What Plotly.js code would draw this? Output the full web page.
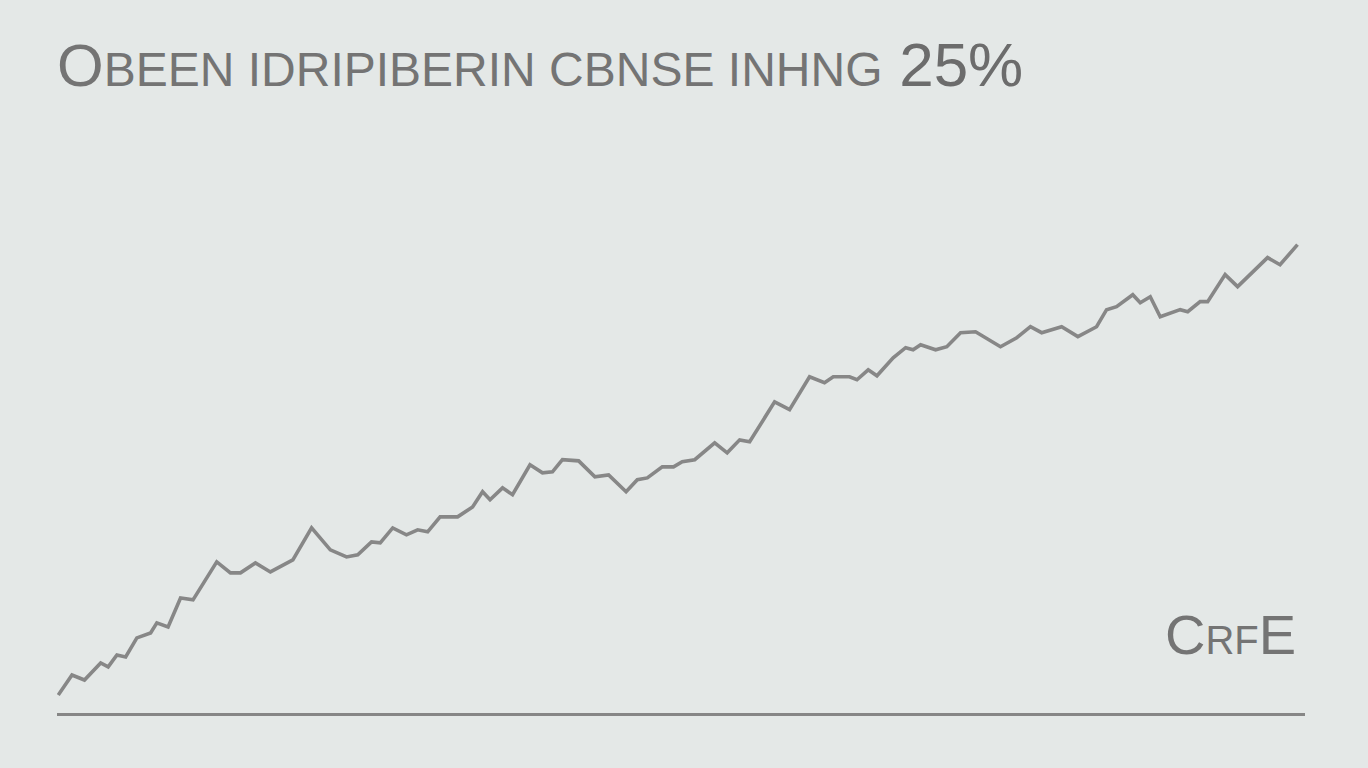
<!DOCTYPE html>
<html>
<head>
<meta charset="utf-8">
<script src="https://cdn.plot.ly/plotly-3.0.1.min.js"></script>
<style>
  html, body { margin: 0; padding: 0; background: #e4e8e7; }
  #chart { width: 1368px; height: 768px; }
</style>
</head>
<body>
<div id="chart"></div>
<script>
// Series (x: time units 0-100, y: percent)
const periods = [0.1, 1.2, 2.2, 3.5, 4.1, 4.8, 5.5, 6.4, 7.5, 8.0, 8.9, 9.9, 10.9, 12.8, 13.9, 14.7, 15.9, 17.1, 18.9, 20.4,
  21.9, 23.2, 24.1, 25.2, 25.9, 26.9, 28.0, 28.9, 29.7, 30.7, 32.1, 33.3, 34.1, 34.7, 35.7, 36.5, 37.9, 38.9, 39.7, 40.5,
  41.8, 43.1, 44.2, 45.6, 46.5, 47.3, 48.5, 49.4, 50.1, 51.1, 52.7, 53.7, 54.7, 55.5, 57.5, 58.7, 60.3, 61.5, 62.2, 63.5,
  64.1, 65.0, 65.7, 67.0, 68.0, 68.6, 69.2, 70.4, 71.3, 72.4, 73.6, 75.6, 76.9, 78.0, 78.9, 80.5, 81.8, 82.8, 83.3, 84.1,
  84.9, 86.2, 86.8, 87.6, 88.4, 90.0, 90.6, 91.6, 92.2, 93.6, 94.6, 97.0, 98.0, 99.4];
const values = [0.96, 2.03, 1.76, 2.67, 2.46, 3.10, 2.99, 4.01, 4.27, 4.81, 4.59, 6.14, 6.04, 8.07, 7.48, 7.48, 8.01, 7.53, 8.17, 9.88,
  8.71, 8.33, 8.44, 9.13, 9.08, 9.88, 9.51, 9.78, 9.67, 10.47, 10.47, 11.00, 11.81, 11.38, 12.02, 11.65, 13.25, 12.82, 12.87, 13.52,
  13.46, 12.61, 12.71, 11.81, 12.45, 12.55, 13.14, 13.14, 13.41, 13.52, 14.42, 13.89, 14.58, 14.48, 16.61, 16.19, 17.95, 17.63, 17.95, 17.95,
  17.79, 18.32, 18.00, 18.96, 19.50, 19.39, 19.66, 19.39, 19.55, 20.30, 20.35, 19.55, 20.03, 20.62, 20.30, 20.62, 20.09, 20.46, 20.62, 21.53,
  21.69, 22.33, 21.90, 22.22, 21.15, 21.53, 21.42, 21.96, 21.96, 23.40, 22.76, 24.31, 23.93, 25.00];

const titleLead = "O";
const titleBody = "BEEN IDRIPIBERIN CBNSE INHNG";
const titleTail = "25%";
const labelParts = ["C", "RF", "E"];

const trace = {
  x: periods,
  y: values,
  type: "scatter",
  mode: "lines",
  line: { color: "#878787", width: 3.6 },
  hoverinfo: "skip",
  showlegend: false
};

const layout = {
  width: 1368,
  height: 768,
  paper_bgcolor: "#e4e8e7",
  plot_bgcolor: "rgba(0,0,0,0)",
  margin: { l: 57, r: 63, t: 151, b: 55, pad: 0 },
  title: {
    text: titleLead + "<span style='font-size:48px'>" + titleBody + "</span> <span style='font-size:62px;fill:#6c6c6c'>" + titleTail + "</span>",
    font: { family: "Liberation Sans, Arial, sans-serif", size: 60, color: "#747474" },
    xref: "container", yref: "container",
    x: 57 / 1368, xanchor: "left",
    y: 1 - 65 / 768, yanchor: "middle"
  },
  xaxis: {
    range: [0, 100],
    showgrid: false, zeroline: false, showticklabels: false, ticks: "",
    showline: true, linecolor: "#868686", linewidth: 3
  },
  yaxis: {
    range: [0, 30],
    showgrid: false, zeroline: false, showticklabels: false, ticks: "",
    showline: false
  },
  annotations: [{
    xref: "paper", yref: "y",
    x: (1298 - 57) / 1248, y: 4.2,
    xanchor: "right", yanchor: "middle",
    showarrow: false,
    text: labelParts[0] + "<span style='font-size:40px'>" + labelParts[1] + "</span>" + labelParts[2],
    font: { family: "Liberation Sans, Arial, sans-serif", size: 56, color: "#747474" }
  }]
};

Plotly.newPlot("chart", [trace], layout, { displayModeBar: false, staticPlot: true });
</script>
</body>
</html>
